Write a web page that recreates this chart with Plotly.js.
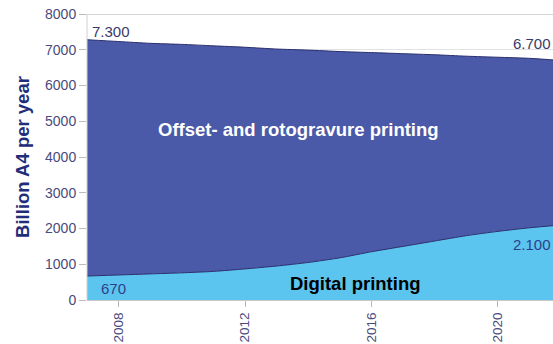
<!DOCTYPE html>
<html><head><meta charset="utf-8">
<script src="https://cdn.plot.ly/plotly-3.0.1.min.js"></script>
<style>html,body{margin:0;padding:0;background:#fff}#c{width:553px;height:344px}</style>
</head><body><div id="c"></div>
<script>
const years   = [2007,2008,2009,2010,2011,2012,2013,2014,2015,2016,2017,2018,2019,2020,2021,2022];
const digital = [670,700,730,760,800,870,950,1050,1180,1350,1500,1650,1800,1920,2020,2100];
const total   = [7280,7230,7180,7150,7110,7070,7020,6990,6950,6920,6890,6860,6820,6790,6760,6700];
const offset  = total.map((t,i)=>t-digital[i]);
const xTicks  = [2008,2012,2016,2020];
const seriesNames = ["Digital printing","Offset- and rotogravure printing"];

const navy = "#2a2f6e";
const traces = [
  {x:years,y:digital,name:seriesNames[0],type:"scatter",mode:"lines",stackgroup:"a",
   fillcolor:"#5bc5ef",line:{color:navy,width:1,shape:"spline",smoothing:0.6},hoverinfo:"skip"},
  {x:years,y:offset,name:seriesNames[1],type:"scatter",mode:"lines",stackgroup:"a",
   fillcolor:"#4a5aa8",line:{color:navy,width:1,shape:"spline",smoothing:0.6},hoverinfo:"skip"}
];
const tickColor = "#4a4a7c";
const layout = {
  width:553,height:344,
  margin:{l:87,r:0,t:14,b:44},
  paper_bgcolor:"#fff",plot_bgcolor:"#fff",
  showlegend:false,
  font:{family:"Liberation Sans, Arial, sans-serif",color:tickColor},
  xaxis:{range:[2007,2021.74],tickvals:xTicks,ticktext:xTicks.map(String),tickangle:-90,
    ticks:"outside",ticklen:6,tickcolor:"#bbbbbb",showgrid:false,zeroline:false,
    showline:true,linecolor:"#c8c8c8",linewidth:1,tickfont:{size:13.5,color:tickColor}},
  yaxis:{range:[0,8000],dtick:1000,ticks:"outside",ticklen:7,tickcolor:"#bbbbbb",
    showgrid:true,gridcolor:"#e2e2e2",zeroline:false,showline:false,
    tickfont:{size:14,color:tickColor},
    title:{text:"<b>Billion A4 per year</b>",font:{size:18.5,color:"#1f2d7a"},standoff:10}},
  shapes:[{type:"line",xref:"paper",yref:"y",x0:0,x1:1,y0:8000,y1:8000,line:{color:"#c8c8c8",width:1.5}},
          {type:"line",xref:"paper",yref:"paper",x0:0,x1:0,y0:0,y1:1,line:{color:"#d0d0d0",width:1}}],
  annotations:[
    {x:2007.75,y:7500,xref:"x",yref:"y",text:"7.300",showarrow:false,font:{size:15,color:"#3a3a6a"}},
    {x:2021.74,y:7180,xref:"x",yref:"y",text:"6.700",showarrow:false,xanchor:"right",font:{size:15,color:"#3a3a6a"}},
    {x:2007.85,y:310,xref:"x",yref:"y",text:"670",showarrow:false,font:{size:15,color:"#2f3f8a"}},
    {x:2021.74,y:1540,xref:"x",yref:"y",text:"2.100",showarrow:false,xanchor:"right",font:{size:15,color:"#2f3f8a"}},
    {x:2013.68,y:4780,xref:"x",yref:"y",text:"<b>Offset- and rotogravure printing</b>",showarrow:false,font:{size:18.5,color:"#ffffff"}},
    {x:2015.5,y:450,xref:"x",yref:"y",text:"<b>Digital printing</b>",showarrow:false,font:{size:18.5,color:"#000000"}}
  ]
};
Plotly.newPlot("c",traces,layout,{staticPlot:true,displayModeBar:false});
</script></body></html>
